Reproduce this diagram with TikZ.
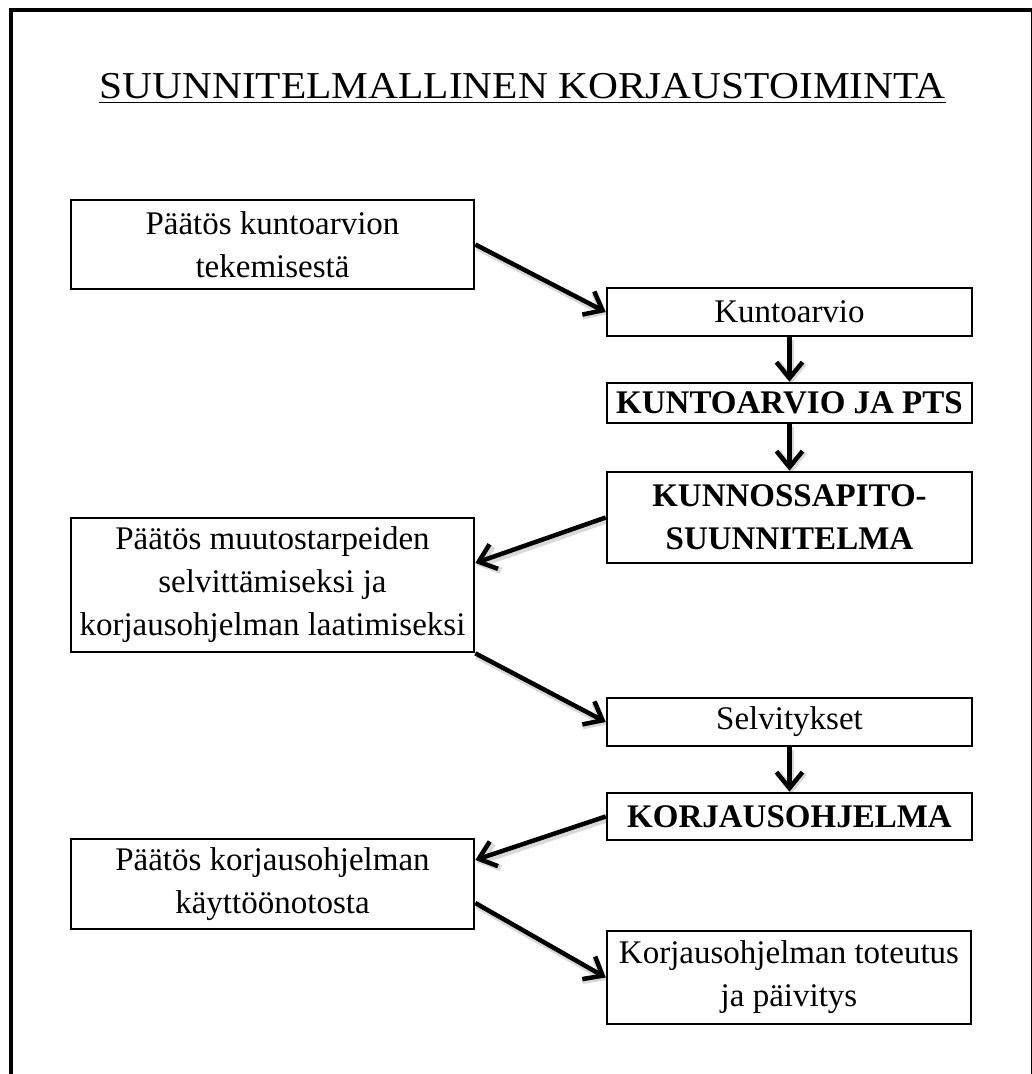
\documentclass[tikz,border=0pt]{standalone}
\usepackage{fontspec}
\setmainfont{Liberation Serif}
\usetikzlibrary{arrows.meta}
\begin{document}
\begin{tikzpicture}[x=1pt,y=-1pt,
  plainbox/.style={draw, line width=2.6pt, inner sep=0pt, align=center,
    font=\fontsize{33pt}{43pt}\selectfont},
  boldbox/.style={plainbox, font=\fontsize{33pt}{43pt}\selectfont\bfseries},
  leftcol/.style={minimum width=403pt},
  rightcol/.style={minimum width=365pt},
  flow/.style={line width=4.5pt, line join=round,
    -{Straight Barb[length=16pt,width=26pt]},
    preaction={draw=black, opacity=0.15, line width=6.5pt,
      transform canvas={shift={(1.5pt,-2.5pt)}}}},
]
\useasboundingbox (0,0) rectangle (1032,1074);

% outer frame (runs past the lower edge of the page)
\draw[line width=3.3pt] (11,10) rectangle (1032.5,1110);

% heading
\node[inner sep=0pt, anchor=base, font=\fontsize{38pt}{40pt}\selectfont] (title)
  at (522.5,98) {\scalebox{1.09}[1]{SUUNNITELMALLINEN KORJAUSTOIMINTA}};
\draw[line width=1.8pt] ([yshift=-4.5pt]title.base west) -- ([yshift=-4.5pt]title.base east);

% decision boxes (left) and work phases (right)
\node[plainbox, leftcol, minimum height=89pt] (b1) at (272.5,244.5)
  {Päätös kuntoarvion\\tekemisestä};
\node[plainbox, rightcol, minimum height=48pt] (b2) at (789.5,312) {Kuntoarvio};
\node[boldbox, rightcol, minimum height=40pt] (b3) at (789.5,403) {KUNTOARVIO JA PTS};
\node[boldbox, rightcol, minimum height=91pt] (b4) at (789.5,517.5)
  {KUNNOSSAPITO-\\SUUNNITELMA};
\node[plainbox, leftcol, minimum height=134pt] (b5) at (272.5,585)
  {Päätös muutostarpeiden\\selvittämiseksi ja\\korjausohjelman laatimiseksi};
\node[plainbox, rightcol, minimum height=48pt] (b6) at (789.5,722) {Selvitykset};
\node[boldbox, rightcol, minimum height=47pt] (b7) at (789.5,816.5) {KORJAUSOHJELMA};
\node[plainbox, leftcol, minimum height=90pt] (b8) at (272.5,884)
  {Päätös korjausohjelman\\käyttöönotosta};
\node[plainbox, minimum width=364pt, minimum height=93pt] (b9) at (789,977.5)
  {Korjausohjelman toteutus\\ja päivitys};

% flow arrows
\draw[flow] (b1.east) -- (b2.west);
\draw[flow] (b2.south) -- (b3.north);
\draw[flow] (b3.south) -- (b4.north);
\draw[flow] (b4.west) -- ([yshift=22pt]b5.east);
\draw[flow] (b5.south east) -- (b6.west);
\draw[flow] (b6.south) -- (b7.north);
\draw[flow] (b7.west) -- ([yshift=24pt]b8.east);
\draw[flow] ([yshift=-19pt]b8.east) -- (b9.west);
\end{tikzpicture}
\end{document}
